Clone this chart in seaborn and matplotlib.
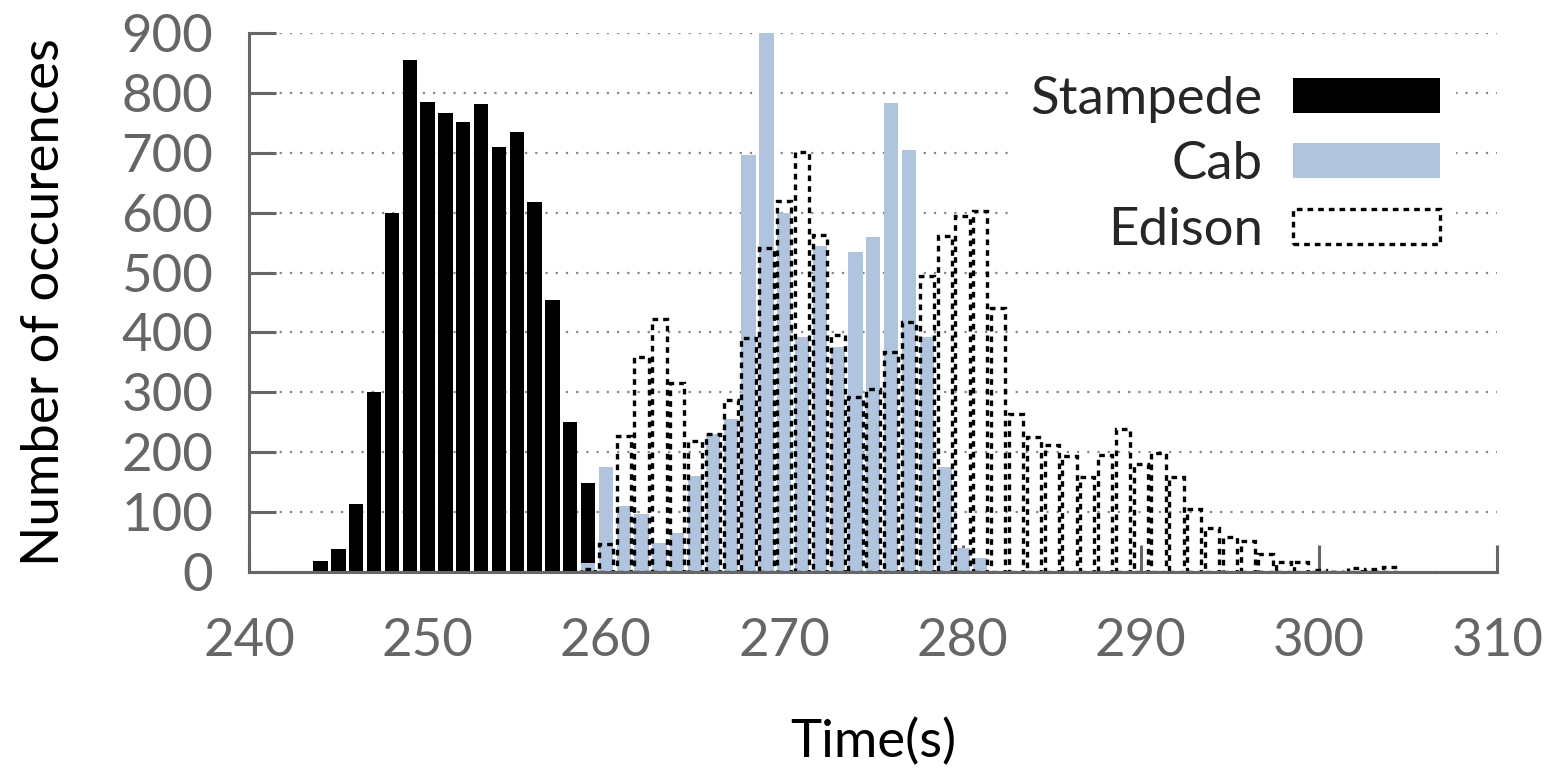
import numpy as np
import pandas as pd
import matplotlib
matplotlib.use("Agg")
import matplotlib.pyplot as plt
from matplotlib.patches import Patch
import seaborn as sns

# ---- data ----
stampede_x = list(range(244, 260))
stampede_y = [18, 38, 113, 300, 600, 855, 784, 766, 751, 781, 709, 734, 617, 454, 250, 148]

cab_x = list(range(259, 282))
cab_y = [15, 176, 111, 97, 48, 65, 160, 231, 256, 696, 900, 599, 392, 544, 376,
         535, 560, 783, 704, 392, 176, 40, 24]

edison_x = list(range(259, 305))
edison_y = [5, 47, 227, 359, 422, 316, 219, 231, 288, 391, 541, 620, 702, 562, 396,
            292, 306, 368, 418, 494, 561, 594, 603, 441, 264, 226, 212, 194, 158, 196,
            238, 181, 198, 158, 106, 74, 58, 51, 30, 16, 16, 3, 0, 6, 5, 8]

series_names = ["Stampede", "Cab", "Edison"]
x_ticks = [240, 250, 260, 270, 280, 290, 300, 310]
y_ticks = [0, 100, 200, 300, 400, 500, 600, 700, 800, 900]

# ---- style ----
sns.set_theme(style="white")
plt.rcParams["font.family"] = ["Lato", "DejaVu Sans"]

GRAY = "#666666"
CAB_COLOR = "#b0c4de"
EDISON_LW = 2.4
EDISON_LS = (0, (1.7, 1.5))

fig = plt.figure(figsize=(15.54, 7.72), dpi=100)
ax = fig.add_axes([249.3 / 1554, 200 / 772, 1248.1 / 1554, 539 / 772])

df_s = pd.DataFrame({"x": stampede_x, "y": stampede_y})
df_c = pd.DataFrame({"x": cab_x, "y": cab_y})
df_e = pd.DataFrame({"x": edison_x, "y": edison_y})

sns.barplot(data=df_s, x="x", y="y", native_scale=True, width=0.8, color="black",
            saturation=1, errorbar=None, linewidth=0, ax=ax)
sns.barplot(data=df_c, x="x", y="y", native_scale=True, width=0.8, color=CAB_COLOR,
            saturation=1, errorbar=None, linewidth=0, ax=ax)
sns.barplot(data=df_e, x="x", y="y", native_scale=True, width=0.8, color="black",
            fill=False, saturation=1, errorbar=None, linewidth=EDISON_LW,
            linestyle=EDISON_LS, ax=ax)

ax.set_xlim(240, 310)
ax.set_ylim(0, 900)
ax.set_xticks(x_ticks)
ax.set_yticks(y_ticks)
ax.set_xticklabels([str(t) for t in x_ticks])
ax.set_yticklabels([str(t) for t in y_ticks])

for s in ["top", "right"]:
    ax.spines[s].set_visible(False)
for s in ["left", "bottom"]:
    ax.spines[s].set_color(GRAY)
    ax.spines[s].set_linewidth(2.2)

ax.tick_params(axis="both", which="major", left=True, bottom=True,
               direction="in", length=19.5, width=2.2, color=GRAY,
               labelcolor=GRAY, labelsize=38)
ax.tick_params(axis="x", pad=33)
ax.tick_params(axis="y", pad=26)

ax.yaxis.grid(True, linestyle=(0, (1, 3.6)), color="#888888", linewidth=1.6)
ax.xaxis.grid(False)
ax.set_axisbelow(True)

ax.set_xlabel("Time(s)", fontsize=38, color="black", labelpad=38)
ax.set_ylabel("Number of occurences", fontsize=38, color="black", labelpad=38)

handles = [
    Patch(facecolor="black", edgecolor="none"),
    Patch(facecolor=CAB_COLOR, edgecolor="none"),
    Patch(facecolor="none", edgecolor="black", linewidth=EDISON_LW, linestyle=EDISON_LS),
]
leg = ax.legend(handles, series_names, loc="upper right",
                bbox_to_anchor=(1456 / 1554, 1 - 60 / 772),
                bbox_transform=fig.transFigure, markerfirst=False,
                fontsize=38, handlelength=2.78, handleheight=0.64,
                handletextpad=0.58, labelspacing=0.35, borderpad=0.3,
                borderaxespad=0, frameon=True, framealpha=1,
                facecolor="white", edgecolor="none", fancybox=False)
for t in leg.get_texts():
    t.set_ha("right")
leg._legend_box.align = "right"

fig.savefig("out.png", dpi=100)
